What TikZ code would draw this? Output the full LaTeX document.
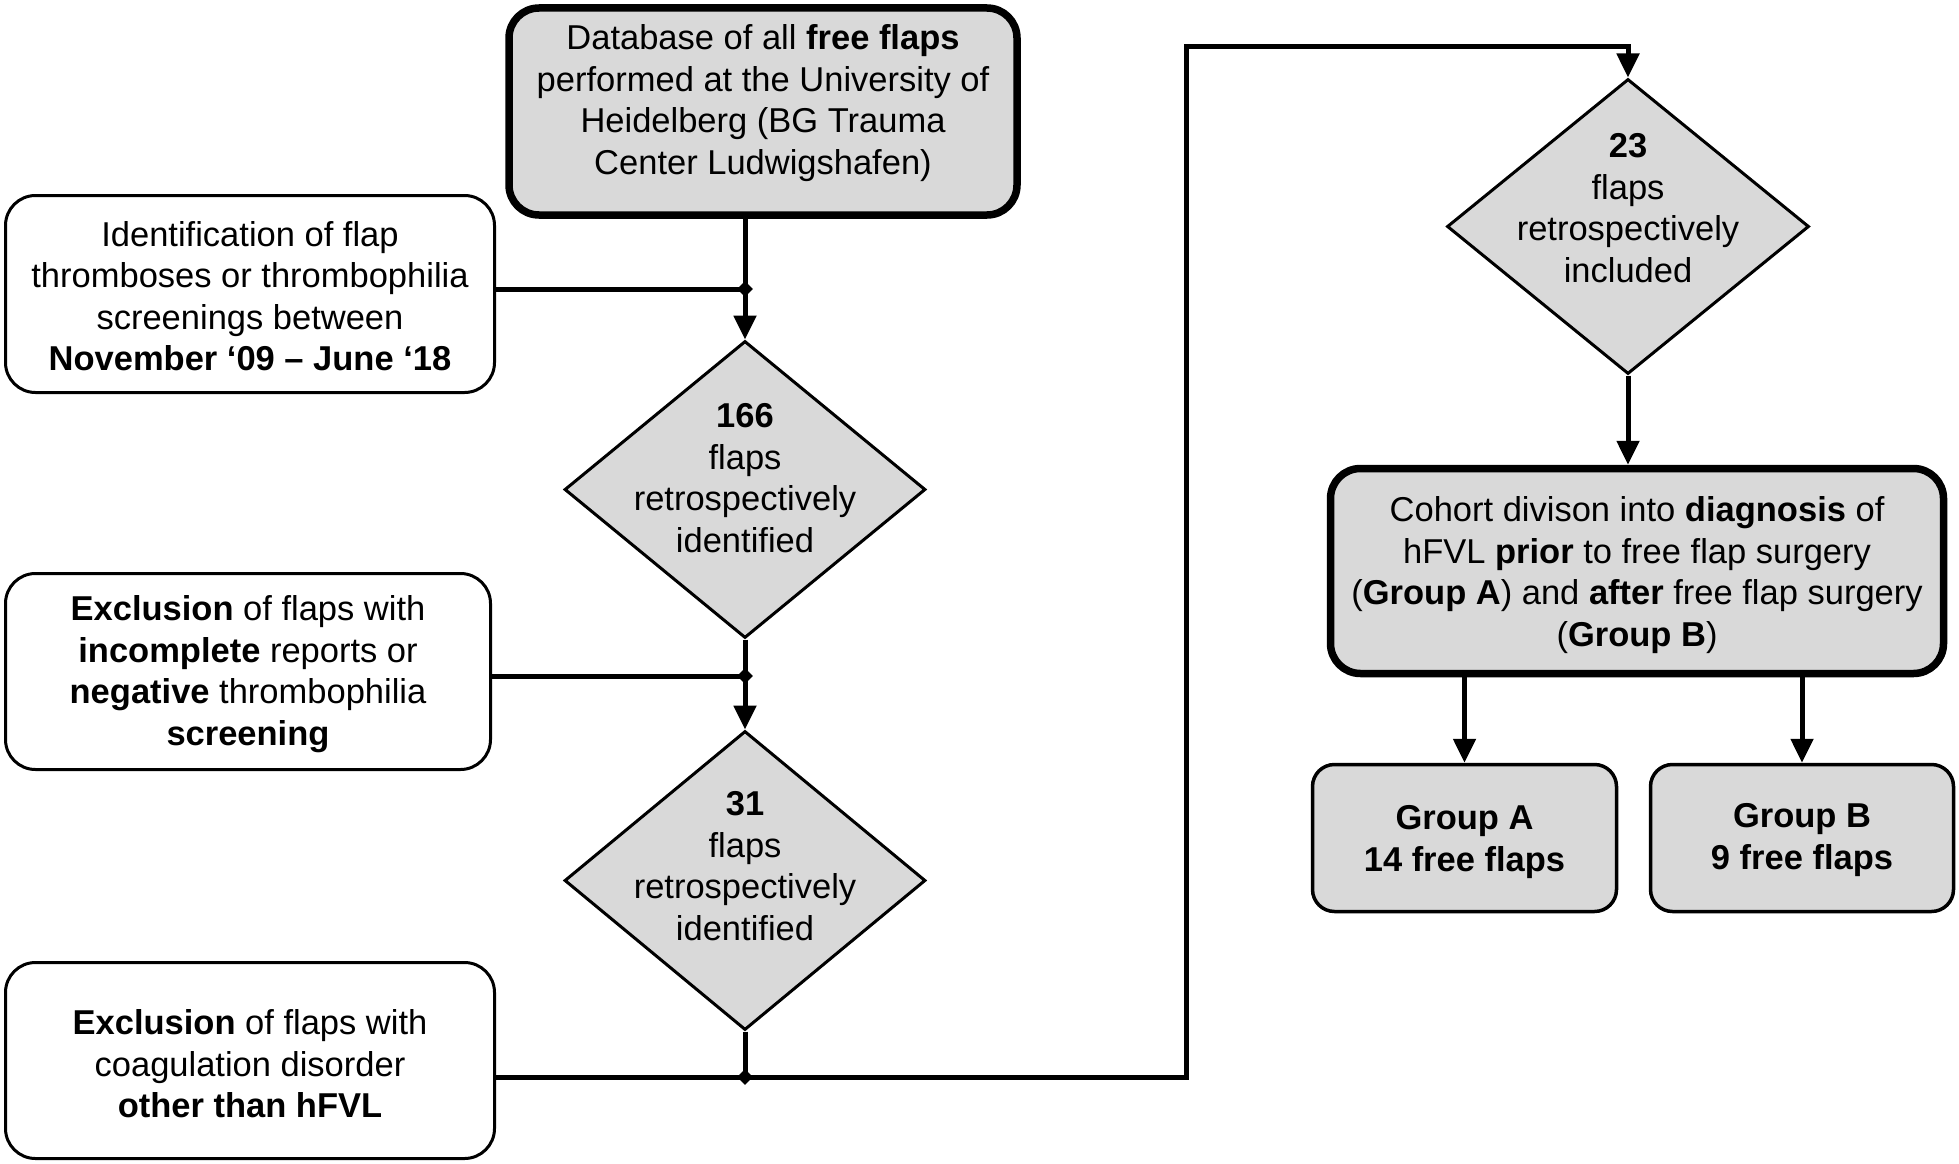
\documentclass[tikz,border=0pt]{standalone}
\usepackage{fontspec}
\setmainfont{Liberation Sans}
\usetikzlibrary{shapes.geometric,arrows.meta}
\definecolor{boxgray}{HTML}{D9D9D9}
\tikzset{
  txt/.style={align=center,font=\fontsize{34.5}{41.5}\selectfont},
  thinbox/.style={txt,draw,line width=3pt,rounded corners=30pt,fill=white,inner sep=0pt},
  thickbox/.style={txt,draw,line width=7.5pt,rounded corners=30pt,fill=boxgray,inner sep=0pt},
  grpbox/.style={txt,draw,line width=3.5pt,rounded corners=22pt,fill=boxgray,inner sep=0pt},
  dia/.style={draw,diamond,line width=3pt,fill=boxgray,inner sep=0pt},
  conn/.style={line width=5pt},
  arr/.style={line width=5pt,-{Triangle[width=22pt,length=24pt]}},
  jdot/.style={diamond,fill=black,minimum width=16pt,minimum height=16pt,inner sep=0pt}
}
\begin{document}
\begin{tikzpicture}[x=1pt,y=-1pt]
\useasboundingbox (0,0) rectangle (1959,1164);

\node[thickbox,minimum width=508pt,minimum height=207pt] (top) at (763,111.5) {};
\node[txt] (ttop) at (763,103)
  {Database of all \textbf{free flaps}\\performed at the University of\\Heidelberg (BG Trauma\\Center Ludwigshafen)};

\node[thinbox,minimum width=489pt,minimum height=197pt] (b1) at (250,294) {};
\node[txt] (tb1) at (250,296)
  {Identification of flap\\thromboses or thrombophilia\\screenings between\\\textbf{November ‘09 – June ‘18}};

\node[dia,minimum width=361pt,minimum height=297pt] (d1) at (745,489.5) {};
\node[txt] (t1) at (745,478) {\textbf{166}\\flaps\\retrospectively\\identified};

\node[thinbox,minimum width=485pt,minimum height=196pt] (b2) at (248,671.5) {};
\node[txt] (tb2) at (248,674)
  {\textbf{Exclusion} of flaps with\\\textbf{incomplete} reports or\\\textbf{negative} thrombophilia\\\textbf{screening}};

\node[dia,minimum width=361pt,minimum height=299pt] (d2) at (745,880.5) {};
\node[txt] (t2) at (745,866) {\textbf{31}\\flaps\\retrospectively\\identified};

\node[thinbox,minimum width=489pt,minimum height=196pt] (b3) at (250,1060.5) {};
\node[txt] (tb3) at (250,1064)
  {\textbf{Exclusion} of flaps with\\coagulation disorder\\\textbf{other than hFVL}};

\node[dia,minimum width=362pt,minimum height=295pt] (d3) at (1628,226.5) {};
\node[txt] (t3) at (1628,208) {\textbf{23}\\flaps\\retrospectively\\included};

\node[thickbox,minimum width=613pt,minimum height=205pt] (co) at (1637,571) {};
\node[txt] (tco) at (1637,575)
  {Cohort divison into \textbf{diagnosis} of\\hFVL \textbf{prior} to free flap surgery\\(\textbf{Group A}) and \textbf{after} free flap surgery\\(\textbf{Group B})};

\node[grpbox,minimum width=304pt,minimum height=147pt] (ga) at (1464.5,838) {};
\node[txt] (tga) at (1464.5,842) {\textbf{Group A}\\\textbf{14 free flaps}};
\node[grpbox,minimum width=303pt,minimum height=147pt] (gb) at (1802,838) {};
\node[txt] (tgb) at (1802,840) {\textbf{Group B}\\\textbf{9 free flaps}};

% junctions
\coordinate (j1) at (745,289);
\coordinate (j2) at (745,676);
\coordinate (j3) at (745,1077);
\coordinate (c1) at (1186,1077);
\coordinate (c2) at (1186,47);
\coordinate (c3) at (1628,47);

\draw[conn] (d1.north |- top.south) -- (j1);
\draw[arr] (j1) -- (d1.north);
\draw[conn] (b1.east |- j1) -- (j1);

\draw[conn] (d1.south) -- (j2);
\draw[arr] (j2) -- (d2.north);
\draw[conn] (b2.east |- j2) -- (j2);

\draw[conn] (d2.south) -- (j3);
\draw[conn] (b3.east |- j3) -- (j3);
\draw[arr,line join=miter] (j3) -- (c1) -- (c2) -- (c3) -- (d3.north);

\draw[arr] (d3.south) -- (d3.south |- co.north);
\draw[arr] (ga.north |- co.south) -- (ga.north);
\draw[arr] (gb.north |- co.south) -- (gb.north);

\node[jdot] at (j1) {};
\node[jdot] at (j2) {};
\node[jdot] at (j3) {};
\end{tikzpicture}
\end{document}
